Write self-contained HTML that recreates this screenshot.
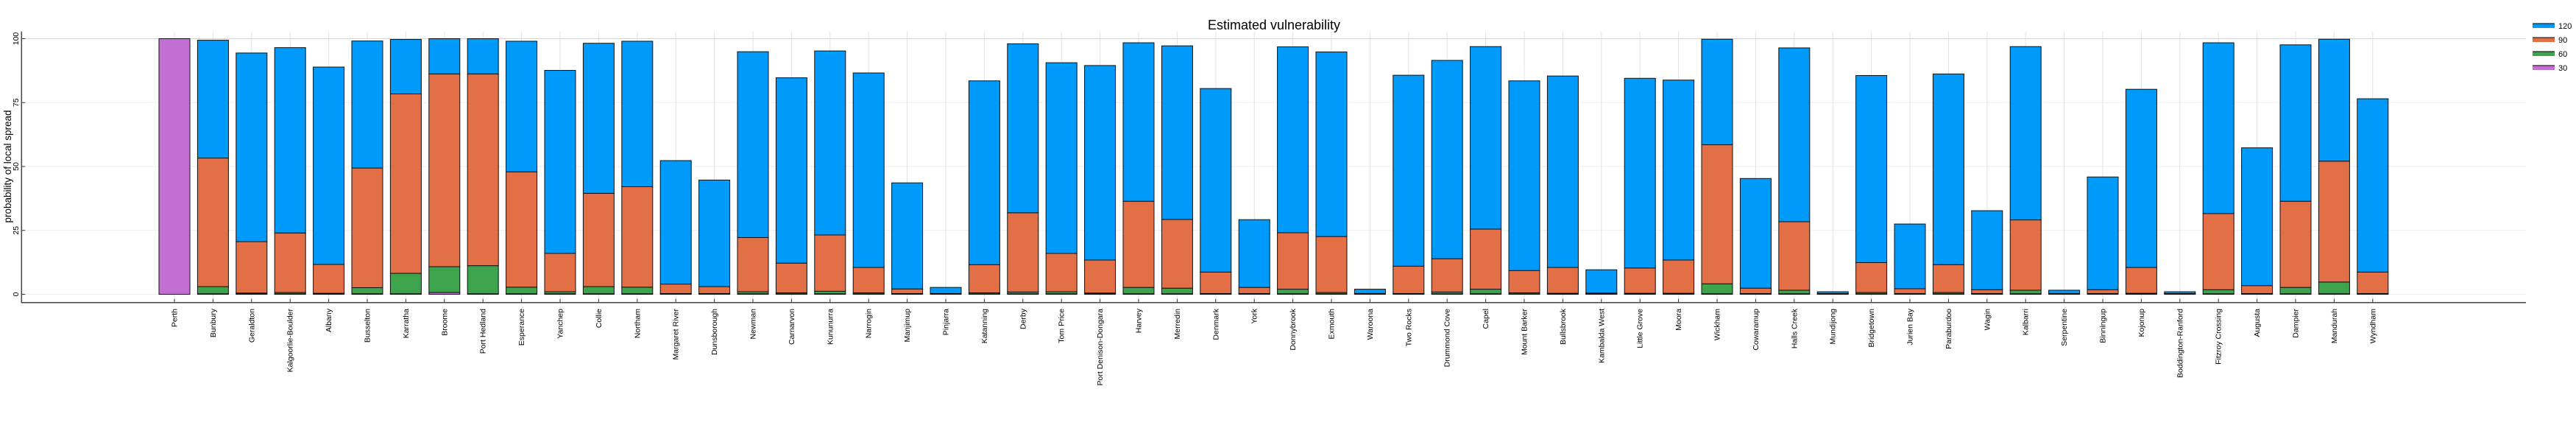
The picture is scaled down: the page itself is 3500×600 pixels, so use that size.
<!DOCTYPE html>
<html><head><meta charset="utf-8"><style>
html,body{margin:0;padding:0;background:#fff;}
svg{display:block;font-family:"Liberation Sans",sans-serif;}
</style></head><body>
<svg id="chart" width="3500" height="600" viewBox="0 0 3500 600" xmlns="http://www.w3.org/2000/svg">
<text x="1731" y="40" font-size="18" text-anchor="middle" fill="#000">Estimated vulnerability</text>
<text transform="translate(15,226) rotate(-90)" font-size="13.5" text-anchor="middle" fill="#000">probability of local spread</text>
<g id="grid"></g>
<g id="bars"></g>
<g id="axes"></g>
<g id="legend"></g>
</svg>
<script>
const categories = ["Perth","Bunbury","Geraldton","Kalgoorlie-Boulder","Albany","Busselton","Karratha","Broome","Port Hedland","Esperance","Yanchep","Collie","Northam","Margaret River","Dunsborough","Newman","Carnarvon","Kununurra","Narrogin","Manjimup","Pinjarra","Katanning","Derby","Tom Price","Port Denison-Dongara","Harvey","Merredin","Denmark","York","Donnybrook","Exmouth","Waroona","Two Rocks","Drummond Cove","Capel","Mount Barker","Bullsbrook","Kambalda West","Little Grove","Moora","Wickham","Cowaramup","Halls Creek","Mundijong","Bridgetown","Jurien Bay","Paraburdoo","Wagin","Kalbarri","Serpentine","Binningup","Kojonup","Boddington-Ranford","Fitzroy Crossing","Augusta","Dampier","Mandurah","Wyndham"];
const s30 = [100,0.2,0.2,0.2,0.2,0.2,0.2,0.7,0.2,0.2,0.2,0.2,0.2,0.2,0.2,0.2,0.2,0.2,0.2,0.2,0.2,0.2,0.2,0.2,0.2,0.2,0.2,0.2,0.2,0.2,0.2,0.2,0.2,0.2,0.2,0.2,0.2,0.2,0.2,0.2,0.2,0.2,0.2,0.2,0.2,0.2,0.2,0.2,0.2,0.2,0.2,0.2,0.2,0.2,0.2,0.2,0.2,0.2];
const s60 = [0,2.8,0.3,0.5,0.2,2.4,8.0,10.1,11.0,2.6,0.8,2.8,2.6,0.1,0.1,0.8,0.4,1.0,0.4,0.1,0,0.4,0.7,0.8,0.3,2.5,2.2,0.1,0.1,1.8,0.5,0,0.1,0.7,1.8,0.4,0.2,0.1,0.2,0.2,3.9,0.1,1.4,0,0.5,0.1,0.5,0.1,1.4,0,0.1,0.2,0,1.6,0.1,2.5,4.6,0.1];
const s90 = [0,50.3,20.1,23.3,11.3,46.8,70.2,75.4,75.0,45.1,15.0,36.5,39.3,3.7,2.7,21.2,11.6,22.0,9.9,1.8,0.1,11.0,31.0,15.0,12.9,33.7,26.9,8.4,2.4,22.1,21.9,0.1,10.7,13.0,23.5,8.7,10.1,0.2,9.9,13.0,54.4,2.1,26.8,0.1,11.7,1.9,10.9,1.5,27.5,0.1,1.5,10.1,0.1,29.8,3.1,33.7,47.3,8.4];
const s120 = [0,46.1,73.8,72.5,77.2,49.7,21.3,13.8,13.8,51.1,71.6,58.7,56.9,48.3,41.7,72.7,72.5,72.0,76.1,41.5,2.4,71.9,66.1,74.6,76.1,62.0,67.9,71.8,26.5,72.7,72.2,1.7,74.7,77.6,71.4,74.2,74.9,9.1,74.2,70.4,41.3,42.9,68.0,0.7,73.2,25.3,74.6,30.9,67.8,1.3,44.1,69.7,0.7,66.8,53.9,61.2,47.7,67.8];
const seriesNames = ["30","60","90","120"];
const yTicks = [0,25,50,75,100];
const legendLabels = ["120","90","60","30"];

const NS="http://www.w3.org/2000/svg";
const colors={"30":"#C271D2","60":"#3DA44D","90":"#E26F46","120":"#009AFA"};
const X0=29.3, X1=3432, YT=42.7, YB=410.7;
function xScale(i){return 237+i*52.4;}
function yScale(v){return 399.5-v*3.47;}
function mk(tag,attrs,parent){const e=document.createElementNS(NS,tag);for(const k in attrs)e.setAttribute(k,attrs[k]);parent.appendChild(e);return e;}
const grid=document.getElementById('grid'),bars=document.getElementById('bars'),axes=document.getElementById('axes'),legend=document.getElementById('legend');

yTicks.forEach(t=>{
  const l=mk('line',{x1:X0,x2:X1,y1:yScale(t),y2:yScale(t),stroke:t===100?'#d4d4d4':'#eeeeee','stroke-width':1},grid);
  
  
  const tk=mk('line',{x1:X0,x2:X0+5,y1:yScale(t),y2:yScale(t),stroke:'#333','stroke-width':1},axes);
  
  
  const tx=mk('text',{transform:`translate(25,${yScale(t)}) rotate(-90)`,'font-size':10.5,'text-anchor':'middle',fill:'#000'},axes);
  tx.textContent=t;
  
  
});
categories.forEach((c,i)=>{
  const x=xScale(i);
  const g=mk('line',{x1:x,x2:x,y1:YT,y2:YB,stroke:'#e2e2e2','stroke-width':1},grid);
  
  
  const vals=[s30[i],s60[i],s90[i],s120[i]];
  let base=0;
  vals.forEach((v,k)=>{
    if(v<=0)return;
    const y1=yScale(base+v),y0=yScale(base);
    const r=mk('rect',{x:x-21,y:y1,width:42,height:Math.max(y0-y1,0.6),fill:colors[seriesNames[k]],stroke:'#111','stroke-width':1},bars);
    
    
    base+=v;
  });
  const tk=mk('line',{x1:x,x2:x,y1:YB,y2:YB-5,stroke:'#333','stroke-width':1},axes);
  
  
  const tx=mk('text',{transform:`translate(${x+3.5},419) rotate(-90)`,'font-size':10.5,'text-anchor':'end',fill:'#000'},axes);
  tx.textContent=c;
  
  
});
const ax=mk('path',{d:`M${X0},${YT} L${X0},${YB} L${X1},${YB}`,fill:'none',stroke:'#444','stroke-width':1.5},axes);



legendLabels.forEach((lab,k)=>{
  const y=35+k*19;
  const r=mk('rect',{x:3441,y:y-3,width:30,height:6,fill:colors[lab]},legend);
  
  
  const l=mk('line',{x1:3441,x2:3471,y1:y-3,y2:y-3,stroke:'#000','stroke-width':1},legend);
  
  
  const t=mk('text',{x:3476,y:y+4,'font-size':11,fill:'#000'},legend);
  t.textContent=lab;
  
  
});
</script>
</body></html>
